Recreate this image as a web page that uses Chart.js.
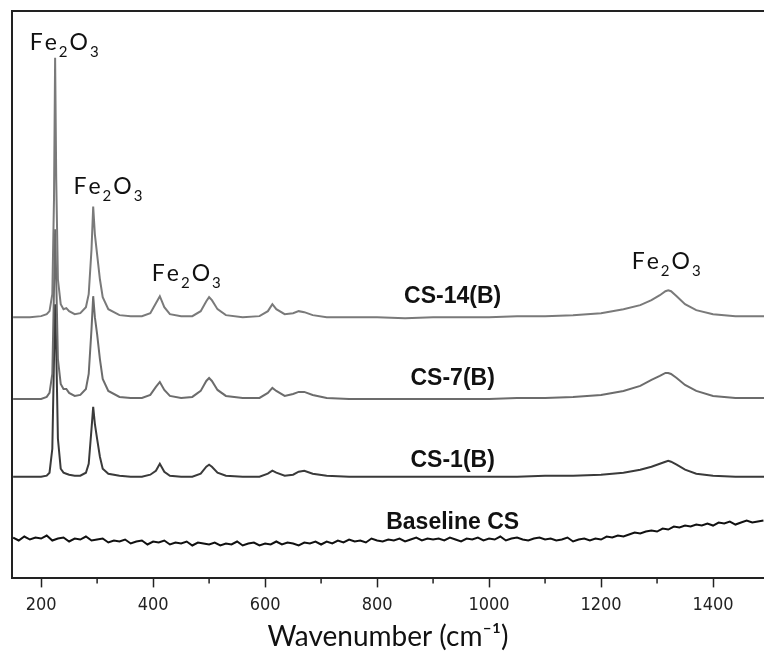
<!DOCTYPE html>
<html>
<head>
<meta charset="utf-8">
<script src="https://cdn.jsdelivr.net/npm/chart.js@4.4.1/dist/chart.umd.min.js"></script>
<style>
  html, body { margin: 0; padding: 0; background: #fff; }
  #wrap { width: 764px; height: 651px; }
</style>
</head>
<body>
<div id="wrap"><canvas id="raman" width="764" height="651"></canvas></div>
<script>
// wavenumbers shared by the three CS-x(B) spectra (cm-1)
const wavenumbers = [150, 180, 200, 210, 215, 220, 223, 225, 227, 230, 235, 240, 245, 250, 260, 270, 280, 285, 290, 293, 296, 300, 305, 310, 320, 340, 360, 380, 395, 405, 412, 420, 430, 450, 470, 485, 495, 500, 505, 515, 530, 560, 590, 605, 613, 620, 635, 650, 660, 670, 685, 710, 750, 800, 850, 900, 950, 1000, 1050, 1100, 1150, 1200, 1240, 1270, 1290, 1305, 1315, 1320, 1325, 1335, 1350, 1370, 1400, 1440, 1491];

// stacked intensities (a.u., offset)
const cs14 = [262, 262, 263, 265, 268, 285, 380, 522, 400, 300, 275, 270, 271, 268, 265, 266, 272, 285, 330, 373, 345, 325, 300, 282, 270, 264, 263, 263, 266, 276, 283, 272, 265, 263, 263, 268, 278, 282, 279, 270, 264, 262, 263, 268, 275, 270, 265, 266, 268, 267, 264, 262, 262, 262, 261, 262, 262, 262, 263, 263, 264, 266, 270, 274, 279, 284, 288, 289, 288, 283, 275, 269, 265, 263, 263];
const cs7 = [180, 180, 180, 182, 186, 205, 290, 350, 300, 220, 195, 190, 190, 186, 183, 184, 190, 205, 250, 283, 262, 245, 220, 200, 188, 182, 181, 181, 184, 192, 197, 189, 183, 181, 182, 188, 198, 201, 198, 189, 183, 181, 181, 186, 191, 188, 183, 185, 187, 187, 184, 181, 180, 180, 180, 180, 180, 180, 181, 181, 182, 184, 188, 193, 199, 203, 206, 206, 205, 201, 194, 188, 183, 181, 181];
const cs1 = [102, 102, 102, 103, 106, 130, 220, 275, 230, 140, 110, 106, 105, 104, 103, 103, 106, 115, 150, 172, 155, 140, 122, 110, 105, 103, 102, 102, 104, 108, 115, 107, 103, 102, 102, 105, 112, 114, 112, 106, 103, 102, 102, 105, 108, 106, 103, 104, 107, 108, 105, 103, 102, 102, 102, 102, 102, 102, 102, 103, 103, 104, 106, 109, 112, 115, 117, 118, 117, 114, 109, 105, 103, 102, 102];

// baseline chitosan spectrum
const baselineWavenumbers = [150, 160, 170, 180, 190, 200, 210, 220, 230, 240, 250, 260, 270, 280, 290, 300,
    310, 320, 330, 340, 350, 360, 370, 380, 390, 400, 410, 420, 430, 440, 450, 460, 470, 480, 490, 500,
    510, 520, 530, 540, 550, 560, 570, 580, 590, 600, 610, 620, 630, 640, 650, 660, 670, 680, 690, 700,
    710, 720, 730, 740, 750, 760, 770, 780, 790, 800, 810, 820, 830, 840, 850, 860, 870, 880, 890, 900,
    910, 920, 930, 940, 950, 960, 970, 980, 990, 1000, 1010, 1020, 1030, 1040, 1050, 1060, 1070, 1080, 1090, 1100,
    1110, 1120, 1130, 1140, 1150, 1160, 1170, 1180, 1190, 1200, 1210, 1220, 1230, 1240, 1250, 1260, 1270, 1280, 1290, 1300,
    1310, 1320, 1330, 1340, 1350, 1360, 1370, 1380, 1390, 1400, 1410, 1420, 1430, 1440, 1450, 1460, 1470, 1480, 1490];
const baselineCS = [41, 38, 42, 39, 41, 40, 43, 38, 40, 41, 37, 40, 39, 42, 38, 39,
    40, 36, 38, 37, 39, 35, 37, 38, 34, 37, 36, 38, 34, 36, 35, 37, 33, 36, 35, 34,
    36, 33, 35, 34, 37, 33, 35, 36, 33, 35, 34, 37, 34, 36, 35, 33, 36, 35, 37, 34,
    37, 35, 38, 36, 39, 37, 38, 36, 40, 38, 37, 39, 38, 40, 37, 39, 41, 38, 40, 39,
    40, 38, 41, 39, 37, 40, 39, 41, 38, 40, 39, 42, 38, 40, 41, 39, 38, 40, 41, 39,
    40, 38, 39, 41, 37, 39, 40, 38, 40, 39, 42, 41, 43, 42, 44, 46, 45, 47, 48, 47,
    50, 49, 52, 51, 53, 52, 54, 53, 55, 53, 56, 55, 57, 54, 56, 58, 56, 57, 58];

const majorTicks = [200, 400, 600, 800, 1000, 1200, 1400];
const minorTicks = [300, 500, 700, 900, 1100, 1300];

// text annotations
const seriesLabels = [
    { text: 'CS-14(B)', x: 935, y: 283 },
    { text: 'CS-7(B)', x: 935, y: 200 },
    { text: 'CS-1(B)', x: 935, y: 118 },
    { text: 'Baseline CS', x: 935, y: 56 }
];
const peakLabels = [
    { x: 243, y: 530 },
    { x: 321, y: 385 },
    { x: 461, y: 298 },
    { x: 1318, y: 310 }
];

const toPoints = (xs, ys) => xs.map((x, i) => ({ x: x, y: ys[i] }));

const annotationsPlugin = {
    id: 'annotations',
    afterDraw(chart) {
        const { ctx, chartArea, scales } = chart;
        const xs = scales.x, ys = scales.y;
        ctx.save();

        // frame: top and left edges
        ctx.strokeStyle = '#222';
        ctx.lineWidth = 2;
        ctx.beginPath();
        ctx.moveTo(chartArea.right, chartArea.top);
        ctx.lineTo(chartArea.left, chartArea.top);
        ctx.lineTo(chartArea.left, chartArea.bottom);
        ctx.stroke();

        // minor ticks
        ctx.lineWidth = 1.5;
        ctx.beginPath();
        minorTicks.forEach((v) => {
            const px = xs.getPixelForValue(v);
            ctx.moveTo(px, chartArea.bottom);
            ctx.lineTo(px, chartArea.bottom + 5);
        });
        ctx.stroke();

        // series labels
        ctx.fillStyle = '#111';
        ctx.font = 'bold 23px "Liberation Sans", Arial, sans-serif';
        ctx.textAlign = 'center';
        ctx.textBaseline = 'middle';
        seriesLabels.forEach((l) => {
            ctx.fillText(l.text, xs.getPixelForValue(l.x), ys.getPixelForValue(l.y));
        });

        // Fe2O3 peak labels
        ctx.textAlign = 'left';
        ctx.textBaseline = 'alphabetic';
        const big = '23px Lato, "DejaVu Sans", sans-serif';
        const small = '15px Lato, "DejaVu Sans", sans-serif';
        peakLabels.forEach((l) => {
            const parts = [['F', big, 0], ['e', big, 0], ['2', small, 7], ['O', big, 0], ['3', small, 7]];
            let w = 0;
            parts.forEach((p) => { ctx.font = p[1]; w += ctx.measureText(p[0]).width + 2; });
            let cx = xs.getPixelForValue(l.x) - w / 2;
            const by = ys.getPixelForValue(l.y);
            parts.forEach((p) => {
                ctx.font = p[1];
                ctx.fillText(p[0], cx, by + p[2]);
                cx += ctx.measureText(p[0]).width + 2;
            });
        });
        ctx.restore();
    }
};

new Chart(document.getElementById('raman'), {
    type: 'line',
    data: {
        datasets: [
            { label: 'CS-14(B)', data: toPoints(wavenumbers, cs14), borderColor: '#7a7a7a' },
            { label: 'CS-7(B)', data: toPoints(wavenumbers, cs7), borderColor: '#6c6c6c' },
            { label: 'CS-1(B)', data: toPoints(wavenumbers, cs1), borderColor: '#3a3a3a' },
            { label: 'Baseline CS', data: toPoints(baselineWavenumbers, baselineCS), borderColor: '#111111', borderWidth: 2 }
        ]
    },
    options: {
        responsive: false,
        animation: false,
        devicePixelRatio: 1,
        layout: { padding: { left: 12, top: 11, right: 0, bottom: 0 } },
        elements: {
            point: { radius: 0 },
            line: { borderWidth: 2, tension: 0 }
        },
        plugins: {
            legend: { display: false },
            tooltip: { enabled: false }
        },
        scales: {
            x: {
                type: 'linear',
                min: 148,
                max: 1491,
                afterBuildTicks: (scale) => {
                    scale.ticks = majorTicks.map((v) => ({ value: v }));
                },
                ticks: {
                    color: '#222',
                    padding: 7,
                    callback: (value) => String(value),
                    font: { family: '"Liberation Sans Narrow", "DejaVu Sans Condensed", sans-serif', size: 18 }
                },
                grid: {
                    drawOnChartArea: false,
                    tickLength: 9,
                    tickWidth: 1.5,
                    tickColor: '#222'
                },
                border: { color: '#222', width: 2 },
                title: {
                    display: true,
                    text: 'Wavenumber (cm\u207B\u00B9)',
                    color: '#111',
                    padding: { top: 0, bottom: 0 },
                    font: { family: 'Lato, "DejaVu Sans", sans-serif', size: 28, lineHeight: 1.0 }
                }
            },
            y: {
                display: false,
                min: 0,
                max: 569
            }
        }
    },
    plugins: [annotationsPlugin]
});
</script>
</body>
</html>
